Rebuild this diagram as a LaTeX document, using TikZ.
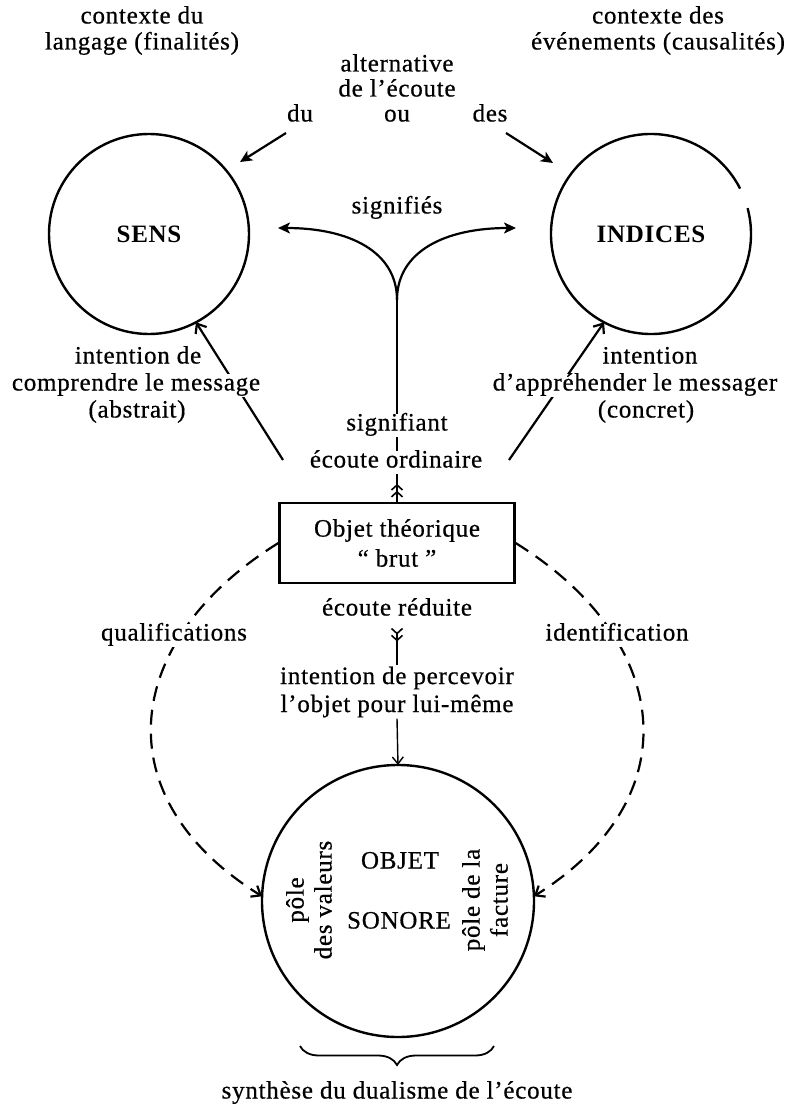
\documentclass[tikz,border=0pt]{standalone}
\usepackage{fontspec}
\setmainfont{Liberation Serif}[LetterSpace=3, UprightFeatures={FakeBold=0.6}]
\usetikzlibrary{arrows.meta,backgrounds,decorations.pathreplacing}
\begin{document}
\begin{tikzpicture}[x=1pt,y=-1pt,
  txt/.style={font=\fontsize{25}{28}\selectfont, inner sep=1pt, text height=16pt, text depth=5pt},
  mtxt/.style={font=\fontsize{25}{28}\selectfont, inner sep=1pt, align=center},
  wtxt/.style={txt, fill=white},
  ring/.style={circle, draw, line width=2.4pt, inner sep=0pt, outer sep=0pt},
  heavy/.style={line width=2.2pt, -{Stealth[length=12pt,width=11pt,inset=3pt]}},
  barb/.style={line width=2.2pt, -{Straight Barb[length=8pt,width=13pt]}},
  dasharc/.style={line width=2.2pt, dash pattern=on 15pt off 9pt, -{Straight Barb[length=8pt,width=13pt]}},
  stem/.style={line width=1.6pt},
]
\useasboundingbox (0,0) rectangle (788,1107);

% top texts
\node[txt] (cl1) at (142,18) {contexte du};
\node[txt] (cl2) at (142,44) {langage (finalités)};
\node[txt] (cr1) at (658,18) {contexte des};
\node[txt] (cr2) at (658,44) {événements (causalités)};
\node[txt] (alt1) at (397,66) {alternative};
\node[txt] (alt2) at (397,91) {de l’écoute};
\node[txt] (du) at (300,116) {du};
\node[txt] (ou) at (397,116) {ou};
\node[txt] (des) at (490,116) {des};

% circles
\node[ring, minimum size=200pt] (SENS) at (149,234) {\fontsize{25}{28}\selectfont\bfseries SENS};
\node[circle, inner sep=0pt, outer sep=0pt, minimum size=200pt] (IND) at (651,234) {\fontsize{25}{28}\selectfont\bfseries INDICES};
\draw[line width=2.4pt] (IND.27) arc[start angle=27, end angle=375, radius=100pt];

\node[txt] (sig) at (397,208) {signifiés};
\node[wtxt] (sgt) at (397,425) {signifiant};
\node[wtxt] (ord) at (396,462) {écoute ordinaire};

% intentions
\node[wtxt] (il1) at (138,358) {intention de};
\node[wtxt] (il2) at (136,385) {comprendre le message};
\node[wtxt] (il3) at (137,412) {(abstrait)};
\node[wtxt] (ir1) at (650,358) {intention};
\node[wtxt] (ir2) at (635,385) {d’appréhender le messager};
\node[wtxt] (ir3) at (646,412) {(concret)};

% box
\node[draw, line width=2.2pt, minimum width=235pt, minimum height=80pt, align=center,
      font=\fontsize{25}{30}\selectfont, fill=white] (box) at (397,543) {Objet théorique\\“ brut ”};

\node[txt] (red) at (397,610) {écoute réduite};
\node[wtxt] (qual) at (174,635) {qualifications};
\node[wtxt] (ident) at (617,635) {identification};
\node[mtxt] (perc) at (397,692) {intention de percevoir\\l’objet pour lui-même};

% bottom circle
\node[ring, minimum size=272pt] (obj) at (398,901) {};
\node[txt] (objet) at (400,863) {OBJET};
\node[txt] (sonore) at (399,923) {SONORE};
\node[mtxt, rotate=90] (valeurs) at (309,900) {pôle\\des valeurs};
\node[mtxt, rotate=90] (facture) at (485,900) {pôle de la\\facture};

\node[txt] (synth) at (397,1093) {synthèse du dualisme de l’écoute};

% coordinates
\coordinate (J) at (397,300);
\coordinate (sigL) at (278,228);
\coordinate (sigR) at (516,228);
\coordinate (duS) at (286,133);
\coordinate (duT) at (240,162);
\coordinate (desS) at (506,133);
\coordinate (desT) at (553,163);
\coordinate (oL) at (283,460);
\coordinate (oR) at (509,460);

\begin{scope}[on background layer]
  \draw[stem] (box.north) -- (J);
  \draw[barb] (oL) -- (SENS.-62);
  \draw[barb] (oR) -- (IND.-118);
  \draw[dasharc] (box.west) .. controls (122,640) and (102,797) .. (obj.178);
  \draw[dasharc] (box.east) .. controls (672,640) and (692,797) .. (obj.2);
\end{scope}

\draw[stem, -{Straight Barb[length=5pt,width=11pt]Straight Barb[length=5pt,width=11pt]}] (box.north) -- ++(0,-18);
\draw[heavy] (J) .. controls (397,252) and (350,228) .. (sigL);
\draw[heavy] (J) .. controls (397,252) and (444,228) .. (sigR);
\draw[heavy] (duS) -- (duT);
\draw[heavy] (desS) -- (desT);
\draw[stem, {Straight Barb[reversed,length=5pt,width=11pt]Straight Barb[reversed,length=5pt,width=11pt]}-] ([yshift=-6pt]red.south) -- (perc.north);
\draw[line width=1.4pt, -{Straight Barb[length=7pt,width=11pt]}] (perc.south) -- (obj.north);

\draw[line width=1.8pt, decorate, decoration={brace, mirror, amplitude=19pt}] (300,1046) -- (494,1046);
\end{tikzpicture}
\end{document}
